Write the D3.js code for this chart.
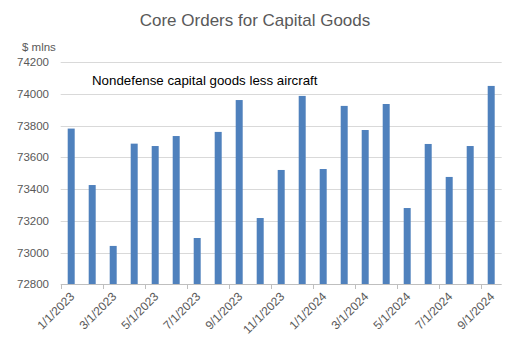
<!DOCTYPE html>
<html>
<head>
<meta charset="utf-8">
<script src="https://cdn.jsdelivr.net/npm/d3@7"></script>
<style>
  body { margin: 0; background: #fff; }
  svg { display: block; font-family: "Liberation Sans", Arial, sans-serif; }
</style>
</head>
<body>
<svg id="chart" width="510" height="358"></svg>
<script>
const categories = ["1/1/2023","2/1/2023","3/1/2023","4/1/2023","5/1/2023","6/1/2023","7/1/2023","8/1/2023","9/1/2023","10/1/2023","11/1/2023","12/1/2023","1/1/2024","2/1/2024","3/1/2024","4/1/2024","5/1/2024","6/1/2024","7/1/2024","8/1/2024","9/1/2024"];
const values = [73782,73426,73042,73687,73672,73735,73092,73761,73962,73218,73521,73988,73527,73925,73773,73937,73281,73685,73477,73672,74051];
const yTicks = [72800,73000,73200,73400,73600,73800,74000,74200];
const title = "Core Orders for Capital Goods";
const seriesLabel = "Nondefense capital goods less aircraft";
const unitLabel = "$ mlns";

(function () {
const svg = d3.select("#chart");
const pLeft = 60.7, pRight = 501.7, pTop = 62.3, pBottom = 284.3;

const x = d3.scaleBand().domain(categories).range([pLeft, pRight]).paddingInner(2/3).paddingOuter(1/3);
const y = d3.scaleLinear().domain([72800, 74200]).range([pBottom, pTop]);

// gridlines
svg.append("g").selectAll("line").data(yTicks.slice(1)).join("line")
  .attr("x1", pLeft).attr("x2", pRight)
  .attr("y1", d => Math.round(y(d)) + 0.5).attr("y2", d => Math.round(y(d)) + 0.5)
  .attr("stroke", "#d9d9d9").attr("stroke-width", 1);

// bars
svg.append("g").selectAll("rect").data(values).join("rect")
  .attr("x", (d, i) => x(categories[i]))
  .attr("width", x.bandwidth())
  .attr("y", d => y(d))
  .attr("height", d => y(72800) - y(d))
  .attr("fill", "#4f81bd");

// x axis line
svg.append("line").attr("x1", pLeft).attr("x2", pRight)
  .attr("y1", Math.round(pBottom) + 0.5).attr("y2", Math.round(pBottom) + 0.5)
  .attr("stroke", "#bfbfbf");

const labeled = categories.filter((c, i) => i % 2 === 0);
const gap = (x.step() - x.bandwidth()) / 2;
svg.append("g").selectAll("line").data(labeled).join("line")
  .attr("x1", d => Math.round(x(d) - gap) + 0.5).attr("x2", d => Math.round(x(d) - gap) + 0.5)
  .attr("y1", Math.round(pBottom)).attr("y2", Math.round(pBottom) + 5)
  .attr("stroke", "#bfbfbf");

// x labels
svg.append("g").selectAll("text").data(labeled).join("text")
  .attr("transform", d => `translate(${x(d) + x.bandwidth() / 2 + 1},${pBottom + 10}) rotate(-45)`)
  .attr("text-anchor", "end")
  .attr("dy", "0.35em")
  .attr("font-size", 12)
  .attr("fill", "#595959")
  .text(d => d);

// y labels
svg.append("g").selectAll("text").data(yTicks).join("text")
  .attr("x", 49).attr("y", d => y(d))
  .attr("dy", "0.35em")
  .attr("text-anchor", "end")
  .attr("font-size", 11.5)
  .attr("fill", "#595959")
  .text(d => d);

svg.append("text").attr("x", 22).attr("y", 51)
  .attr("font-size", 11.5).attr("fill", "#595959").text(unitLabel);

svg.append("text").attr("x", 255).attr("y", 26)
  .attr("text-anchor", "middle").attr("font-size", 17).attr("fill", "#595959").text(title);

svg.append("text").attr("x", 92).attr("y", 85)
  .attr("font-size", 13.3).attr("fill", "#000").text(seriesLabel);
})();
</script>
</body>
</html>
